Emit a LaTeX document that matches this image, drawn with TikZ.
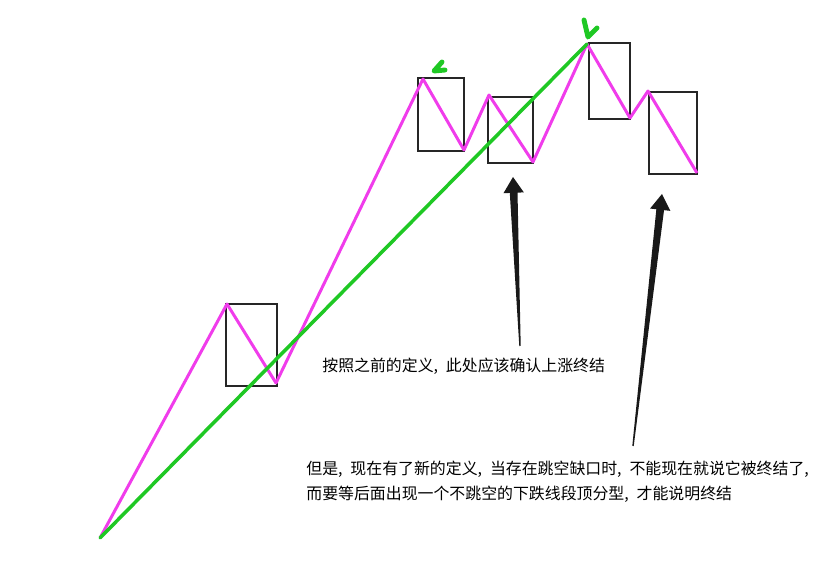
\documentclass[tikz,border=0pt]{standalone}
\usepackage{fontspec}
\newfontfamily\cjk{Noto Sans CJK SC}
\usepackage{tikz}
\usetikzlibrary{calc,positioning}
\definecolor{rosa}{HTML}{F03CEB}
\definecolor{gruen}{HTML}{1FC824}
\tikzset{
  kasten/.style={draw=black!85,line width=1.1pt},
  bogen/.style={rosa,line width=1.7pt,line join=round},
  trend/.style={gruen,line width=2pt,line cap=round},
  haken/.style={gruen,line width=2.8pt,line cap=round,line join=round},
  notiz/.style={font=\cjk\fontsize{9.05}{14.3}\selectfont,align=left,inner sep=0pt}
}
\newcommand{\kom}{,\hspace{4.5pt}}
\newcommand{\pfeil}[2]{%
  \coordinate (hb) at ($(#2)!9pt!(#1)$);
  \fill[black!90] ($(#1)!0.4pt!90:(#2)$) -- ($(hb)!2.2pt!90:(#2)$) -- ($(hb)!5.8pt!90:(#2)$)
    -- (#2) -- ($(hb)!5.8pt!-90:(#2)$) -- ($(hb)!2.2pt!-90:(#2)$) -- ($(#1)!0.4pt!-90:(#2)$) -- cycle;
}
\begin{document}
\begin{tikzpicture}[x=0.02cm,y=-0.02cm]
\useasboundingbox (0,0) rectangle (836,567);
%Wendepunkte der Linie
\coordinate (p0) at (100,538);
\coordinate (p1) at (227,304);
\coordinate (p2) at (276,383);
\coordinate (p3) at (423,79);
\coordinate (p4) at (464,150);
\coordinate (p5) at (489,95);
\coordinate (p6) at (533,162);
\coordinate (p7) at (587,44);
\coordinate (p8) at (630,118);
\coordinate (p9) at (648,91);
\coordinate (p10) at (697,173);
%Kaesten
\foreach \xa/\ya/\xb/\yb in {226/304/277/386,418/78/464/151,488/97/533/163,589/43/630/119,649/92/697/174}{
\draw[kasten] (\xa,\ya) rectangle (\xb,\yb);
}
\draw[bogen] (p0) \foreach \i in {1,...,10}{ -- (p\i)};
\draw[trend] (p0) -- (p7);
%Haken
\draw[haken] (584,20) -- (588,37) -- (597,28);
\draw[haken] (442,62) -- (434,71) -- (445,70);
%Texte
\node[notiz,anchor=west] (t1) at (322,366) {按照之前的定义\kom 此处应该确认上涨终结};
\node[notiz,anchor=north west] (t2) at (306,461) {但是\kom 现在有了新的定义\kom 当存在跳空缺口时\kom 不能现在就说它被终结了,\\而要等后面出现一个不跳空的下跌线段顶分型\kom 才能说明终结};
\coordinate (s1) at (520,346);
\coordinate (z1) at (513,177);
\coordinate (s2) at (633,446);
\coordinate (z2) at (662,194);
\pfeil{s1}{z1}
\pfeil{s2}{z2}
\end{tikzpicture}
\end{document}
